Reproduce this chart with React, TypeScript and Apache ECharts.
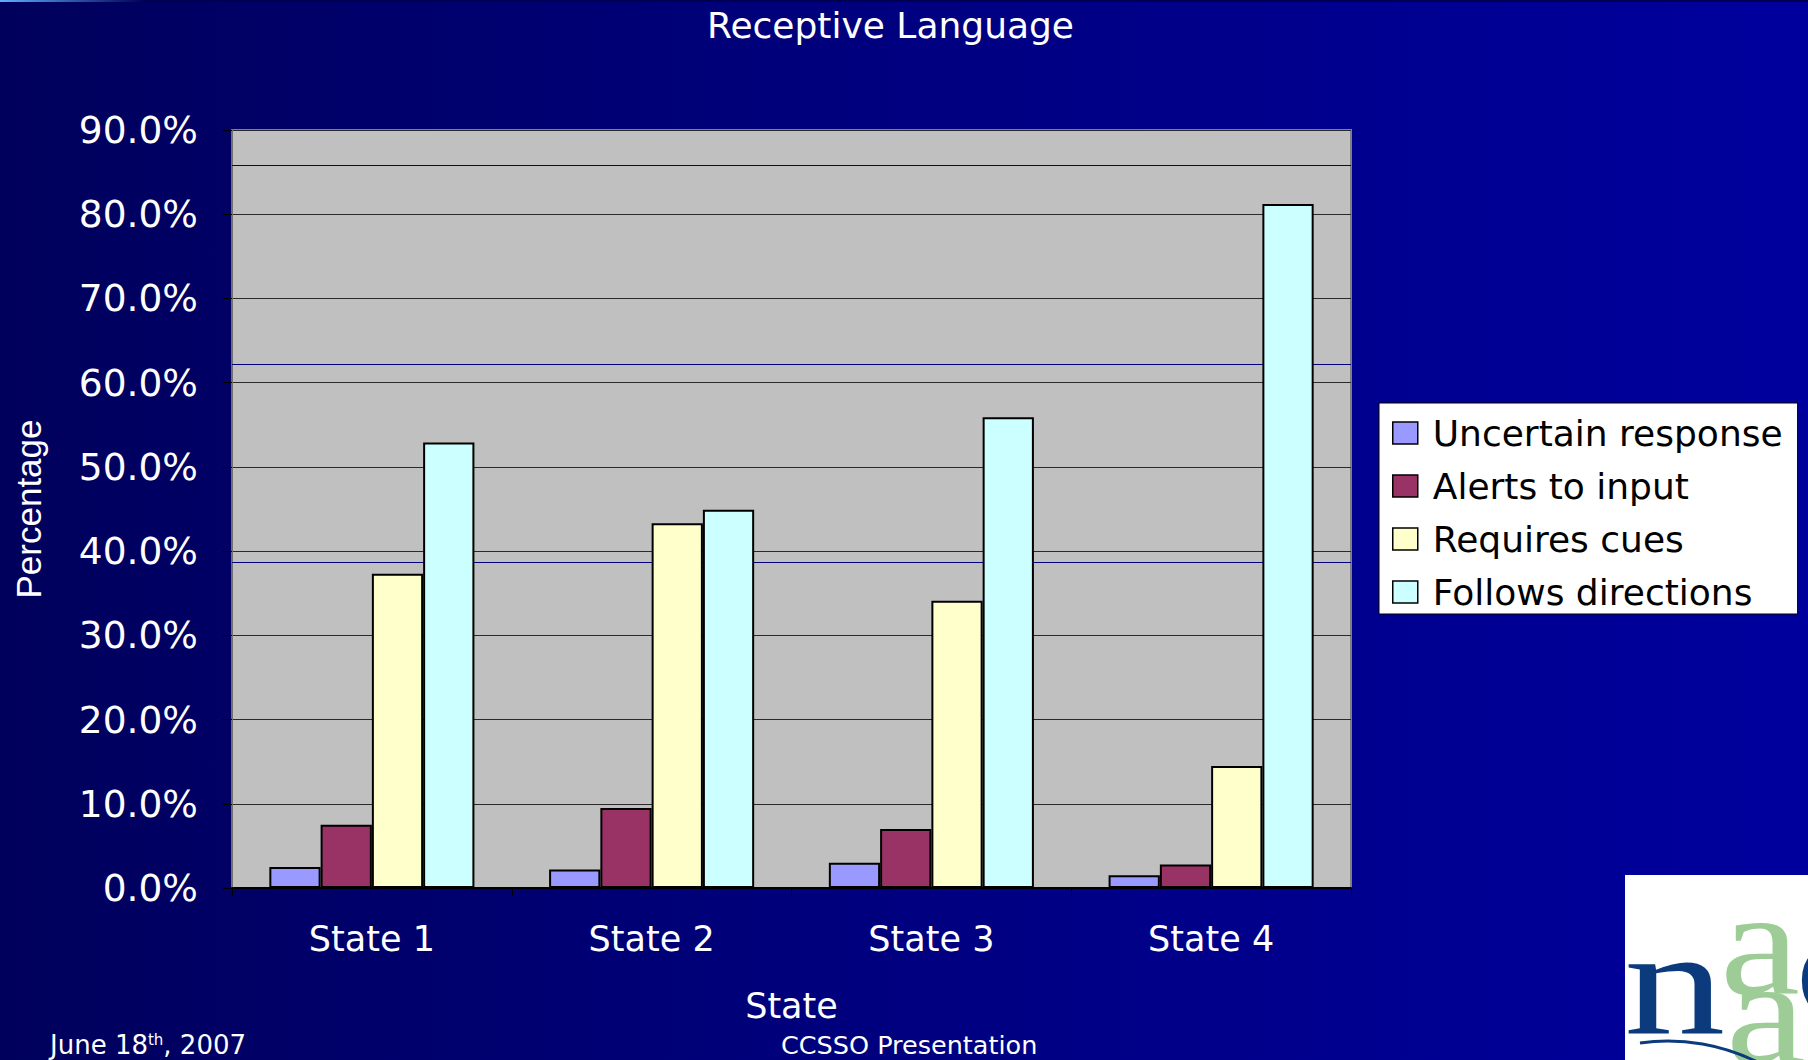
import React, { useEffect, useRef } from "react";
import * as echarts from "echarts";

// Category axis and series values (percent of students)
const categories = ["State 1", "State 2", "State 3", "State 4"];
const uncertainResponse = [2.5, 2.2, 3.0, 1.5];
const alertsToInput = [7.5, 9.5, 7.0, 2.8];
const requiresCues = [37.3, 43.3, 34.1, 14.5];
const followsDirections = [52.9, 44.9, 55.9, 81.2];

const seriesNames = ["Uncertain response", "Alerts to input", "Requires cues", "Follows directions"];
const seriesValues = [uncertainResponse, alertsToInput, requiresCues, followsDirections];
const seriesColors = ["#9999FF", "#993366", "#FFFFCC", "#CCFFFF"];

// Value axis range (percent)
const yMin = 0;
const yMax = 90;
const yStep = 10;

// Thin navy rules that run across the plot behind the bars
const slideRules = [85.8, 62.2, 38.7];

const W = 1808;
const H = 1060;

// Corner logo artwork (an embedded SVG picture)
const LOGO_BLUE = "#0B3B7C";
const LOGO_GREEN = "#9DCC96";
const logoSvg =
  `<svg xmlns="http://www.w3.org/2000/svg" width="183" height="185" viewBox="0 0 183 185">` +
  `<rect x="0" y="0" width="183" height="185" fill="#FFFFFF"/>` +
  `<g font-family="Liberation Serif, DejaVu Serif, serif" font-size="150" dominant-baseline="central">` +
  `<text transform="translate(-1,107) scale(1.35,1)" fill="${LOGO_BLUE}" dominant-baseline="central">n</text>` +
  `<text transform="translate(95,68) scale(1.2,1)" fill="${LOGO_GREEN}" dominant-baseline="central">a</text>` +
  `<text transform="translate(101,137) scale(1.2,1)" fill="${LOGO_GREEN}" dominant-baseline="central">a</text>` +
  `<text transform="translate(170,90) scale(1.2,1)" fill="${LOGO_BLUE}" dominant-baseline="central">c</text>` +
  `</g>` +
  `<path d="M15 168 C55 162 100 169 140 191" stroke="${LOGO_BLUE}" stroke-width="3" fill="none"/>` +
  `</svg>`;
const logoUri = "data:image/svg+xml;charset=utf-8," + encodeURIComponent(logoSvg);

export default function App() {
  const ref = useRef<HTMLDivElement>(null);

  useEffect(() => {
    if (!ref.current) return;
    const chart = echarts.init(ref.current, undefined, { renderer: "svg", width: W, height: H });

    const bars = seriesNames.map((name, i) => ({
      type: "bar",
      name,
      data: seriesValues[i],
      barGap: "0%",
      barCategoryGap: "26.7%",
      z: 3,
      itemStyle: { color: seriesColors[i], borderColor: "#000000", borderWidth: 2 },
    }));

    chart.setOption({
      animation: false,
      backgroundColor: "transparent",
      title: {
        text: "Receptive Language",
        left: 707,
        top: 7,
        padding: 0,
        textStyle: { color: "#FFFFFF", fontFamily: "DejaVu Sans", fontSize: 36, fontWeight: "normal" },
      },
      grid: {
        left: 232,
        right: W - 1351,
        top: 130,
        bottom: H - 888,
        show: true,
        backgroundColor: "#C0C0C0",
        borderColor: "#808080",
        borderWidth: 2,
        containLabel: false,
        outerBoundsMode: "none",
      },
      legend: {
        data: seriesNames,
        orient: "vertical",
        left: 1379,
        top: 403,
        backgroundColor: "#FFFFFF",
        borderColor: "#000000",
        borderWidth: 1,
        borderRadius: 0,
        padding: [10, 15, 2, 13],
        itemWidth: 25,
        itemHeight: 22,
        itemGap: 13,
        icon: "rect",
        selectedMode: false,
        itemStyle: { borderColor: "#000000", borderWidth: 1.5 },
        textStyle: {
          color: "#000000",
          fontFamily: "DejaVu Sans",
          fontSize: 36,
          lineHeight: 40,
          padding: [0, 0, 0, 10],
        },
      },
      xAxis: {
        type: "category",
        data: categories,
        name: "State",
        nameLocation: "middle",
        nameGap: 100,
        nameTextStyle: { color: "#FFFFFF", fontFamily: "DejaVu Sans", fontSize: 35 },
        axisLine: { show: true, lineStyle: { color: "#000000", width: 2 } },
        axisTick: { show: true, length: 8, lineStyle: { color: "#000000", width: 1 } },
        axisLabel: { color: "#FFFFFF", fontFamily: "DejaVu Sans", fontSize: 35, margin: 33 },
        splitLine: { show: false },
      },
      yAxis: {
        type: "value",
        min: yMin,
        max: yMax,
        interval: yStep,
        name: "Percentage",
        nameLocation: "middle",
        nameGap: 186,
        nameRotate: 90,
        nameTextStyle: { color: "#FFFFFF", fontFamily: "Liberation Sans", fontSize: 35 },
        axisLine: { show: true, lineStyle: { color: "#707070", width: 2 } },
        axisTick: { show: true, length: 9, lineStyle: { color: "#000000", width: 1 } },
        axisLabel: {
          color: "#FFFFFF",
          fontFamily: "DejaVu Sans",
          fontSize: 37.5,
          margin: 34,
          formatter: (v: number) => v.toFixed(1) + "%",
        },
        splitLine: { show: true, lineStyle: { color: "#2A2A2A", width: 1 } },
      },
      series: [
        {
          type: "line",
          data: [],
          z: 1,
          silent: true,
          markLine: {
            silent: true,
            z: 1,
            symbol: "none",
            label: { show: false },
            lineStyle: { color: "#000080", width: 1, type: "solid" },
            data: slideRules.map((v) => ({ yAxis: v })),
          },
        },
        ...bars,
      ],
      graphic: [
        {
          type: "rect",
          shape: { x: 0, y: 0, width: W, height: 2 },
          style: {
            fill: new echarts.graphic.LinearGradient(0, 0, 1, 0, [
              { offset: 0, color: "#5FAFFF" },
              { offset: 0.08, color: "#000050" },
              { offset: 1, color: "#000050" },
            ]),
          },
          silent: true,
        },
        {
          type: "text",
          x: 50,
          y: 1045,
          silent: true,
          style: {
            text: "{a|June 18}{s|th}{a|, 2007}",
            verticalAlign: "middle",
            rich: {
              a: { fill: "#FFFFFF", fontFamily: "DejaVu Sans", fontSize: 26, lineHeight: 26 },
              s: { fill: "#FFFFFF", fontFamily: "DejaVu Sans", fontSize: 15, lineHeight: 14, verticalAlign: "top" },
            },
          },
        },
        {
          type: "text",
          x: 781,
          y: 1045,
          silent: true,
          style: {
            text: "CCSSO Presentation",
            fill: "#FFFFFF",
            fontFamily: "DejaVu Sans",
            fontSize: 25.5,
            lineHeight: 26,
            verticalAlign: "middle",
          },
        },
        {
          type: "image",
          silent: true,
          style: { image: logoUri, x: 1625, y: 875, width: 183, height: 185 },
        },
      ],
    });

    return () => chart.dispose();
  }, []);

  return (
    <div
      style={{
        position: "fixed",
        left: 0,
        top: 0,
        width: W,
        height: H,
        overflow: "hidden",
        background: "linear-gradient(to right, #00005C 0%, #000080 50%, #00009E 100%)",
      }}
    >
      <div ref={ref} style={{ width: W, height: H }} />
    </div>
  );
}
